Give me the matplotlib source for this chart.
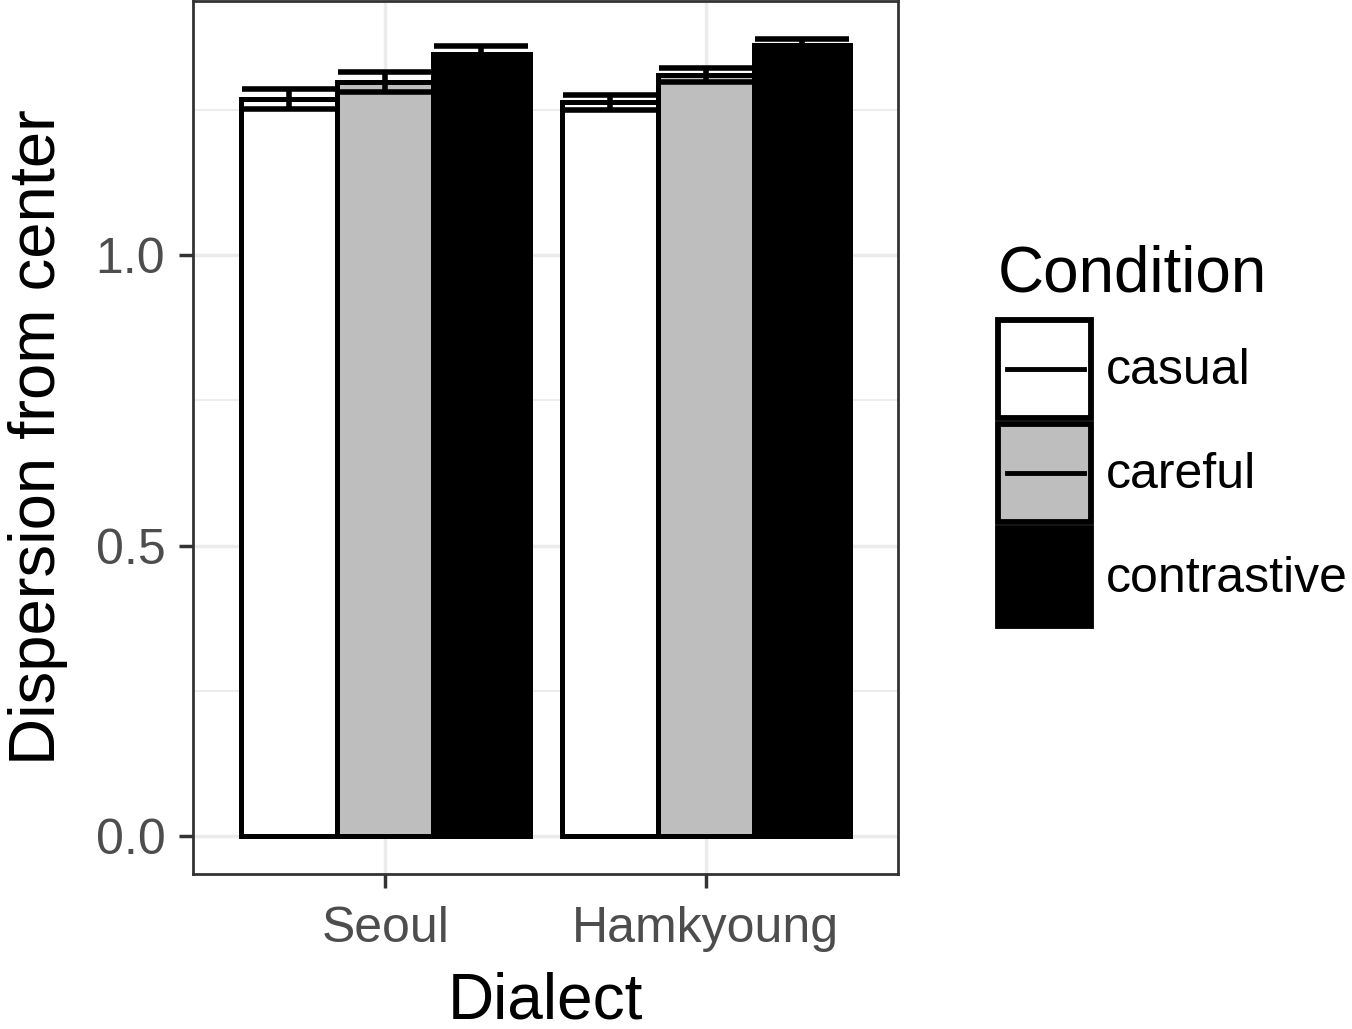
import numpy as np
import matplotlib.pyplot as plt
from matplotlib.patches import Patch, Rectangle
from matplotlib.lines import Line2D
from matplotlib.legend_handler import HandlerBase

plt.rcParams['font.family'] = ['Liberation Sans', 'DejaVu Sans']

# mean dispersion and standard error per dialect / condition
dialects = ['Seoul', 'Hamkyoung']
conditions = ['casual', 'careful', 'contrastive']
casual_mean = [1.268, 1.263]
careful_mean = [1.298, 1.310]
contrastive_mean = [1.346, 1.361]
casual_se = [0.017, 0.013]
careful_se = [0.017, 0.012]
contrastive_se = [0.014, 0.011]

means = [casual_mean, careful_mean, contrastive_mean]
ses = [casual_se, careful_se, contrastive_se]
fills = ['white', '#BEBEBE', 'black']


class BoxLineHandler(HandlerBase):
    """legend key: filled box with the error bar line across its middle"""
    def __init__(self, face, with_line):
        super().__init__()
        self.face = face
        self.with_line = with_line

    def create_artists(self, legend, orig_handle, xdescent, ydescent,
                       width, height, fontsize, trans):
        box = Rectangle((-xdescent, -ydescent), width, height,
                        facecolor=self.face, edgecolor='black', linewidth=4.2,
                        transform=trans)
        arts = [box]
        if self.with_line:
            yc = -ydescent + height / 2
            ln = Line2D([-xdescent + 0.095 * width, -xdescent + 0.925 * width],
                        [yc, yc], color='black', linewidth=3.5, transform=trans)
            arts.append(ln)
        return arts


fig = plt.figure(figsize=(13.52, 10.29), dpi=100)
ax = fig.add_axes([0.1428, 0.1506, 0.5214, 0.8484])

x = np.arange(1, len(dialects) + 1)
width = 0.3
for i, (m, s, c) in enumerate(zip(means, ses, fills)):
    pos = x + (i - 1) * width
    ax.bar(pos, m, width=width, color=c, edgecolor='black', linewidth=3.6, zorder=2)
    ax.errorbar(pos, m, yerr=s, fmt='none', ecolor='black', elinewidth=4,
                capsize=34, capthick=4, zorder=3)

ax.set_xlim(0.4, 2.6)
ax.set_ylim(-0.065, 1.437)
ax.set_xticks(x)
ax.set_xticklabels(dialects)
ax.set_yticks([0, 0.5, 1.0])
ax.set_yticklabels(['0.0', '0.5', '1.0'])
ax.set_yticks([0.25, 0.75, 1.25], minor=True)
ax.tick_params(axis='both', which='major', labelsize=36, labelcolor='#4D4D4D',
               color='#333333', length=10, width=2.5)
ax.tick_params(axis='x', which='major', pad=13)
ax.tick_params(axis='y', which='major', pad=10)
ax.tick_params(axis='y', which='minor', length=0)
ax.grid(True, which='major', color='#EBEBEB', linewidth=2.5, zorder=0)
ax.grid(True, which='minor', axis='y', color='#EBEBEB', linewidth=1.3, zorder=0)
ax.set_axisbelow(True)
for sp in ax.spines.values():
    sp.set_color('#333333')
    sp.set_linewidth(2)

ax.set_xlabel('Dialect', fontsize=46, labelpad=14)
ax.set_ylabel('Dispersion from center', fontsize=47, labelpad=20)

handles = [Patch(), Patch(), Patch()]
hmap = {handles[0]: BoxLineHandler('white', True),
        handles[1]: BoxLineHandler('#BEBEBE', True),
        handles[2]: BoxLineHandler('black', False)}
fig.text(998 / 1352, 1 - 292 / 1029, 'Condition', fontsize=46,
         ha='left', va='baseline')
leg = fig.legend(handles, conditions, handler_map=hmap, loc='upper left',
                 bbox_to_anchor=(0.738, 0.689), frameon=False,
                 fontsize=36, handlelength=1.87, handleheight=2.64,
                 labelspacing=0.12, handletextpad=0.3, borderpad=0,
                 borderaxespad=0)

fig.savefig('out.png', dpi=100)
